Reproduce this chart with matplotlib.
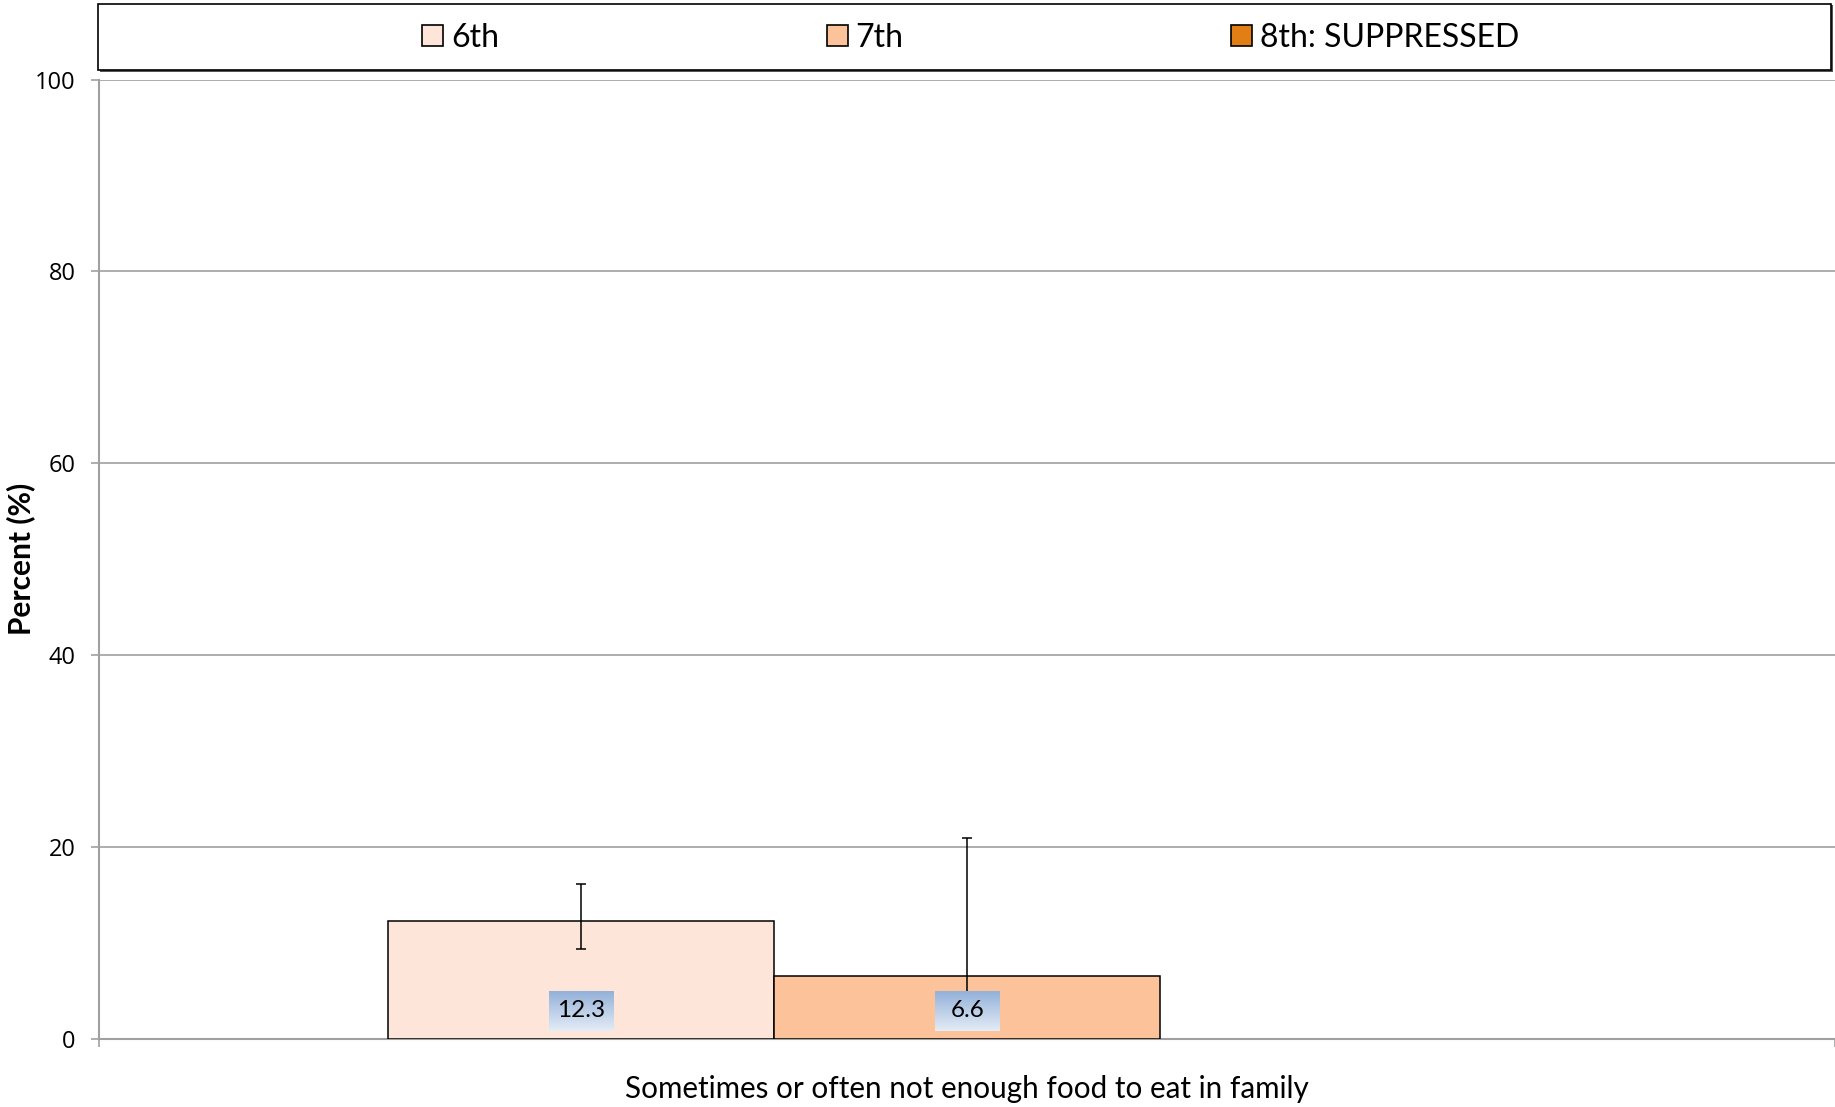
import numpy as np
import matplotlib
matplotlib.use("Agg")
import matplotlib.pyplot as plt
from matplotlib.patches import Rectangle, Patch

# survey result for one item, by grade
category = "Sometimes or often not enough food to eat in family"
grades = ["6th", "7th", "8th: SUPPRESSED"]
values = [12.3, 6.6, 0.0]
ci_low = [9.4, 2.0, 0.0]
ci_high = [16.2, 21.0, 0.0]
shown = [True, True, False]
yticks = [0, 20, 40, 60, 80, 100]

colors = ["#fde6d9", "#fcc39a", "#e27f14"]
grid_col = "#a0a0a0"
text_font = ["Lato", "DejaVu Sans"]

fig = plt.figure(figsize=(18.35, 11.07), dpi=100)
ax = fig.add_axes([0.0542, 0.0614, 0.9458, 0.8667])

width = 0.2225
xs = np.array([-width, 0.0, width])

for i in range(len(grades)):
    if not shown[i]:
        continue
    ax.bar(xs[i], values[i], width=width, color=colors[i], edgecolor="black",
           linewidth=1.1, zorder=3)
    err = [[values[i] - ci_low[i]], [ci_high[i] - values[i]]]
    ax.errorbar(xs[i], values[i], yerr=err, fmt="none", ecolor="black",
                elinewidth=1.1, capsize=3.5, capthick=1.1, zorder=4)

# value labels in small gradient boxes near the bar base
grad = np.linspace(0, 1, 64).reshape(-1, 1)
cmap = matplotlib.colors.LinearSegmentedColormap.from_list("lbl", ["#93b1d9", "#e4ecf6"])
bw, y0, y1 = 0.0185, 0.85, 5.0
for i in range(len(grades)):
    if not shown[i]:
        continue
    ax.imshow(grad, extent=[xs[i] - bw, xs[i] + bw, y0, y1], cmap=cmap,
              aspect="auto", zorder=5, origin="upper")
    ax.text(xs[i], (y0 + y1) / 2, f"{values[i]:.1f}", ha="center", va="center",
            fontsize=17.5, family=text_font, zorder=6)

ax.set_xlim(-0.5, 0.5)
ax.set_ylim(0, 100)
ax.set_yticks(yticks, labels=[str(v) for v in yticks], fontsize=17,
              family=["Open Sans", "DejaVu Sans"])
ax.yaxis.grid(True, color=grid_col, linewidth=1.2, zorder=0)
ax.set_axisbelow(True)
for s in ["top", "right"]:
    ax.spines[s].set_visible(False)
for s in ["left", "bottom"]:
    ax.spines[s].set_color(grid_col)
    ax.spines[s].set_linewidth(1.5)
ax.tick_params(axis="y", direction="out", length=6, width=1.2, color=grid_col, pad=11)
ax.set_xticks([-0.5, 0.5], labels=["", ""])
ax.tick_params(axis="x", which="major", direction="out", length=6, width=1.2,
               color=grid_col)
ax.set_xticks([0], labels=[category], minor=True, fontsize=21.3, family=text_font)
ax.tick_params(axis="x", which="minor", length=0, pad=26)

ax.set_ylabel("Percent (%)", fontsize=21.5, fontweight="bold", family=text_font)
ax.yaxis.set_label_coords(-0.0368, 0.5)

# legend frame across the top
fig.patches.append(Rectangle((0.0545, 0.9350), 0.9445, 0.0602, transform=fig.transFigure,
                             facecolor="#555555", edgecolor="none", zorder=0))
fig.patches.append(Rectangle((0.0534, 0.9368), 0.9446, 0.0600, transform=fig.transFigure,
                             facecolor="white", edgecolor="black", linewidth=1.2, zorder=1))

handles = [Patch(facecolor=c, edgecolor="black", linewidth=1.2) for c in colors]
fig.legend(handles, grades, loc="center left", bbox_to_anchor=(0.2300, 0.9660),
           ncol=3, frameon=False, prop={"family": text_font, "size": 23},
           handlelength=0.66, handleheight=0.66, handletextpad=0.25,
           columnspacing=10.25, borderpad=0, borderaxespad=0)

fig.savefig("out.png", dpi=100)
